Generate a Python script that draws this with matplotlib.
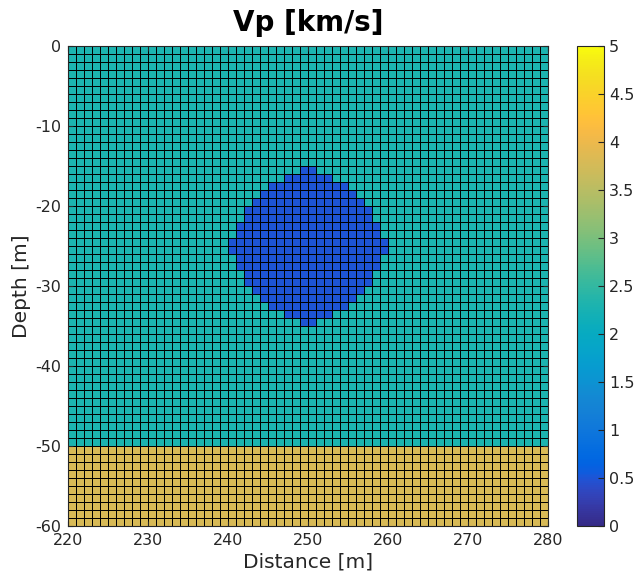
import numpy as np
import matplotlib.pyplot as plt
from matplotlib.colors import LinearSegmentedColormap

plt.rcParams['axes.unicode_minus'] = False

# parula-like colour table (64 entries)
parula_rgb = [
    [0.2081, 0.1663, 0.5292], [0.2116, 0.1898, 0.5777], [0.2123, 0.2138, 0.6270], [0.2081, 0.2386, 0.6771],
    [0.1959, 0.2645, 0.7279], [0.1707, 0.2919, 0.7792], [0.1253, 0.3242, 0.8303], [0.0591, 0.3598, 0.8683],
    [0.0117, 0.3875, 0.8820], [0.0060, 0.4086, 0.8828], [0.0165, 0.4266, 0.8786], [0.0329, 0.4430, 0.8720],
    [0.0498, 0.4586, 0.8641], [0.0629, 0.4737, 0.8554], [0.0723, 0.4887, 0.8467], [0.0779, 0.5040, 0.8384],
    [0.0793, 0.5200, 0.8312], [0.0749, 0.5375, 0.8263], [0.0641, 0.5570, 0.8240], [0.0488, 0.5772, 0.8228],
    [0.0343, 0.5966, 0.8199], [0.0265, 0.6137, 0.8135], [0.0239, 0.6287, 0.8038], [0.0231, 0.6418, 0.7913],
    [0.0228, 0.6535, 0.7768], [0.0267, 0.6642, 0.7607], [0.0384, 0.6743, 0.7436], [0.0590, 0.6838, 0.7254],
    [0.0843, 0.6928, 0.7062], [0.1133, 0.7015, 0.6859], [0.1453, 0.7098, 0.6646], [0.1801, 0.7177, 0.6424],
    [0.2178, 0.7250, 0.6193], [0.2586, 0.7317, 0.5954], [0.3022, 0.7376, 0.5712], [0.3482, 0.7424, 0.5473],
    [0.3953, 0.7459, 0.5244], [0.4420, 0.7481, 0.5033], [0.4871, 0.7491, 0.4840], [0.5300, 0.7491, 0.4661],
    [0.5709, 0.7485, 0.4494], [0.6099, 0.7473, 0.4337], [0.6473, 0.7456, 0.4188], [0.6834, 0.7435, 0.4044],
    [0.7184, 0.7411, 0.3905], [0.7525, 0.7384, 0.3768], [0.7858, 0.7356, 0.3633], [0.8185, 0.7327, 0.3498],
    [0.8507, 0.7299, 0.3360], [0.8824, 0.7274, 0.3217], [0.9139, 0.7258, 0.3063], [0.9450, 0.7261, 0.2886],
    [0.9739, 0.7314, 0.2666], [0.9938, 0.7455, 0.2403], [0.9990, 0.7653, 0.2164], [0.9955, 0.7861, 0.1967],
    [0.9880, 0.8066, 0.1794], [0.9789, 0.8271, 0.1633], [0.9697, 0.8481, 0.1475], [0.9626, 0.8705, 0.1309],
    [0.9589, 0.8949, 0.1132], [0.9598, 0.9218, 0.0948], [0.9661, 0.9514, 0.0755], [0.9763, 0.9831, 0.0538],
]
parula = LinearSegmentedColormap.from_list('parula', parula_rgb)

# model grid (1 m cells)
x_edges = np.arange(220, 281, 1)
z_edges = np.arange(-60, 1, 1)

vp_background = 2.3
vp_anomaly = 0.5
vp_halfspace = 3.8
halfspace_top = -50

# low-velocity body: half-width (m) of each 1 m row, from z=-15 downwards
anomaly_x0 = 250
anomaly_top = -15
anomaly_halfwidth = [1, 3, 5, 6, 7, 8, 8, 9, 9, 10, 10, 9, 9, 8, 8, 7, 6, 5, 3, 1]

xc = 0.5 * (x_edges[:-1] + x_edges[1:])
zc = 0.5 * (z_edges[:-1] + z_edges[1:])

vp = np.full((len(zc), len(xc)), vp_background)
vp[zc < halfspace_top, :] = vp_halfspace
for i, hw in enumerate(anomaly_halfwidth):
    row = np.isclose(zc, anomaly_top - 0.5 - i)
    cols = np.abs(xc - anomaly_x0) < hw
    vp[np.ix_(row, cols)] = vp_anomaly

txt = '#262626'
fig = plt.figure(figsize=(6.37, 5.79), dpi=100)
ax = fig.add_axes([68 / 637, 53 / 579, 480 / 637, 480 / 579])
mesh = ax.pcolormesh(x_edges, z_edges, vp, cmap=parula, vmin=0, vmax=5,
                     edgecolors='k', linewidth=0.6)

ax.set_xlim(220, 280)
ax.set_ylim(-60, 0)
ax.set_xticks(np.arange(220, 281, 10))
ax.set_yticks(np.arange(-60, 1, 10))
ax.tick_params(direction='in', labelsize=11.5, colors=txt, top=True, right=True, pad=5)
for s in ax.spines.values():
    s.set_color(txt)
ax.set_xlabel('Distance [m]', fontsize=14.5, color=txt, labelpad=3)
ax.set_ylabel('Depth [m]', fontsize=14.5, color=txt, labelpad=3)
ax.set_title('Vp [km/s]', fontsize=20, fontweight='bold', pad=11)

cax = fig.add_axes([577 / 637, 53 / 579, 27 / 637, 480 / 579])
cb = fig.colorbar(mesh, cax=cax, ticks=np.arange(0, 5.01, 0.5))
cb.ax.set_yticklabels(['%g' % t for t in np.arange(0, 5.01, 0.5)])
cb.ax.tick_params(direction='in', labelsize=11.5, colors=txt, length=4)
cb.outline.set_edgecolor(txt)

fig.savefig('out.png', dpi=100)
